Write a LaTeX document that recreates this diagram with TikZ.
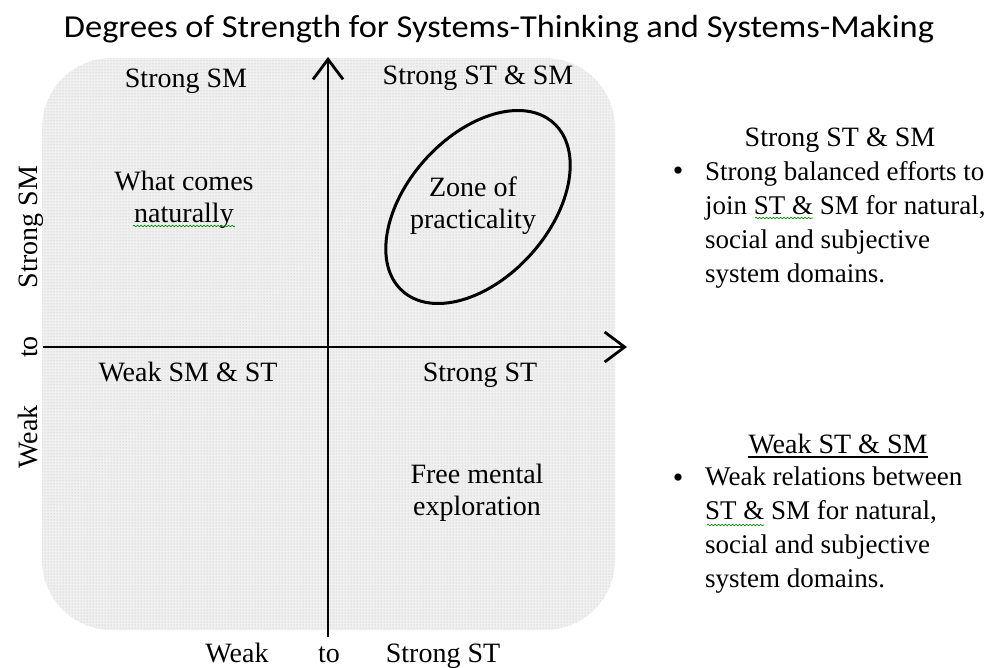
\documentclass[tikz,border=0pt]{standalone}
\usepackage{fontspec}
\setmainfont{Liberation Serif}
\newfontfamily\titlefont{Carlito}
\usetikzlibrary{arrows.meta,decorations.pathmorphing,patterns,shapes.geometric}
\begin{document}
\begin{tikzpicture}[x=1pt,y=-1pt,
  lab/.style={font=\fontsize{28}{32}\selectfont, inner sep=0pt, anchor=base},
  rlab/.style={font=\fontsize{27}{33.8}\selectfont, inner sep=0pt, anchor=base west, align=left},
  bul/.style={font=\fontsize{30}{33}\selectfont, inner sep=0pt, anchor=base},
  axis/.style={line width=2.8pt, -{Straight Barb[length=20pt,width=30pt,line width=2.8pt]}},
  squig/.style={green!55!black, line width=0.7pt, decorate, decoration={snake, amplitude=0.7pt, segment length=3.5pt}},
  oval/.style={ellipse, draw, line width=3pt, minimum width=226pt, minimum height=142pt, inner sep=0pt}
]
\useasboundingbox (0,0) rectangle (988,667);
\fill[white] (0,0) rectangle (988,667);

% title
\node[inner sep=0pt, anchor=base, xscale=1.075, font=\titlefont\fontsize{32}{36}\selectfont] (title) at (499,37) {Degrees of Strength for Systems-Thinking and Systems-Making};

% shaded field
\fill[black!6, rounded corners=70pt] (42,58) rectangle (615,630);
\fill[pattern=dots, pattern color=black!28, rounded corners=70pt] (42,58) rectangle (615,630);

% axes
\coordinate (vb) at (328,637);
\coordinate (vt) at (328,57);
\coordinate (hl) at (43,347);
\coordinate (hr) at (627,347);
\draw[axis] (vb) -- (vt);
\draw[axis] (hl) -- (hr);

% ellipse
\node[oval, rotate=48] (zone) at (478,207) {};
\node[lab, align=center] (zonetxt) at (473,228) {Zone of\\practicality};

% quadrant labels
\node[lab] (qsm) at (186,87) {Strong SM};
\node[lab] (qstsm) at (478,84) {Strong ST \& SM};
\node[lab, align=center] (nat) at (184,222) {What comes\\naturally};
\node[lab] (weakboth) at (188,381) {Weak SM \& ST};
\node[lab] (qst) at (480,381) {Strong ST};
\node[lab, align=center] (free) at (477,515) {Free mental\\exploration};

% axis titles
\node[lab] (bweak) at (237,662) {Weak};
\node[lab] (bto) at (329,662) {to};
\node[lab] (bstrong) at (443,662) {Strong ST};
\node[lab, rotate=90] (lstrong) at (37,227) {Strong SM};
\node[lab, rotate=90] (lto) at (37,347) {to};
\node[lab, rotate=90] (lweak) at (37,437) {Weak};

% right side text
\node[font=\fontsize{28}{33}\selectfont, inner sep=0pt, anchor=base] (h1) at (840,146) {Strong ST \& SM};
\node[bul] (b1) at (678,180) {\textbullet};
\node[rlab] (t1) at (705,282) {Strong balanced efforts to\\join ST \& SM for natural,\\social and subjective\\system domains.};

\node[font=\fontsize{28}{33}\selectfont, inner sep=0pt, anchor=base] (h2) at (838,453) {Weak ST \& SM};
\draw[line width=1.3pt] ([yshift=-4pt]h2.base west) -- ([yshift=-4pt]h2.base east);
\node[bul] (b2) at (678,487) {\textbullet};
\node[rlab] (t2) at (705,587) {Weak relations between\\ST \& SM for natural,\\social and subjective\\system domains.};

% spell-check squiggles
\draw[squig] (133,226) -- (235,226);
\draw[squig] (755,218) -- (813,218);
\draw[squig] (707,525) -- (764,525);
\end{tikzpicture}
\end{document}
